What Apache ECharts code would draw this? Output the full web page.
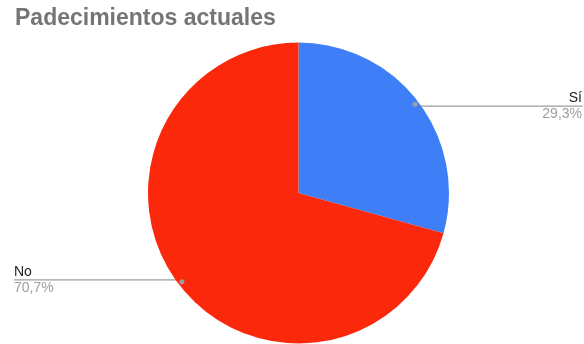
<!DOCTYPE html>
<html>
<head>
<meta charset="utf-8">
<script src="https://cdn.jsdelivr.net/npm/echarts@6/dist/echarts.min.js"></script>
<style>
  html, body { margin: 0; padding: 0; background: #fff; }
  #chart { width: 584px; height: 344px; }
</style>
</head>
<body>
<div id="chart"></div>
<script>
// Survey answers and their shares (percent)
const categories = ['Sí', 'No'];
const values = [29.3, 70.7];
const colors = ['#3e7ff7', '#fb280c'];

const CENTER = [298.5, 193];
const RADIUS = 150.5;
const DOT_R = 143.5; // radius where the leader lines begin

const pieData = categories.map((name, i) => ({
  name: name,
  value: values[i],
  itemStyle: { color: colors[i] }
}));

const chart = echarts.init(document.getElementById('chart'), null, { renderer: 'canvas' });
const W = 584;

chart.setOption({
  animation: false,
  title: {
    text: 'Padecimientos actuales',
    left: 10,
    top: 2,
    textStyle: {
      fontFamily: 'Liberation Sans, Arial, sans-serif',
      fontSize: 23,
      fontWeight: 'bold',
      color: '#757575'
    }
  },
  series: [
    {
      type: 'pie',
      center: CENTER,
      radius: [0, RADIUS],
      startAngle: 90,
      clockwise: true,
      silent: true,
      data: pieData,
      label: {
        show: true,
        position: 'outer',
        fontFamily: 'Liberation Sans, Arial, sans-serif',
        formatter: function (p) {
          return '{n|' + p.name + '}\n{p|' + p.value.toFixed(1).replace('.', ',') + '%}';
        },
        rich: {
          n: { fontSize: 14, lineHeight: 16, color: '#222222', fontFamily: 'Liberation Sans, Arial, sans-serif' },
          p: { fontSize: 14, lineHeight: 16, color: '#9e9e9e', fontFamily: 'Liberation Sans, Arial, sans-serif' }
        }
      },
      labelLine: {
        show: true,
        length: 10,
        length2: 10,
        lineStyle: { color: '#9e9e9e', width: 1.2 }
      },
      labelLayout: function (params) {
        const p0 = params.labelLinePoints[0];
        const k = DOT_R / RADIUS;
        const dx = CENTER[0] + (p0[0] - CENTER[0]) * k;
        const dy = CENTER[1] + (p0[1] - CENTER[1]) * k;
        const right = p0[0] > CENTER[0];
        const ex = right ? W - 1.5 : 14;
        return {
          x: right ? W - 2 : 14,
          y: dy,
          align: right ? 'right' : 'left',
          verticalAlign: 'middle',
          labelLinePoints: [[dx, dy], [(dx + ex) / 2, dy], [ex, dy]]
        };
      },
      emphasis: { disabled: true }
    },
    {
      // thin transparent ring used to place the leader-line dots
      type: 'pie',
      center: CENTER,
      radius: [DOT_R - 6, DOT_R + 6],
      startAngle: 90,
      clockwise: true,
      silent: true,
      z: 3,
      data: categories.map((name, i) => ({ name: name, value: values[i] })),
      itemStyle: { color: 'rgba(0,0,0,0)' },
      label: {
        show: true,
        position: 'inside',
        formatter: '{d|}',
        rich: {
          d: { width: 5, height: 5, borderRadius: 2.5, backgroundColor: '#9e9e9e' }
        }
      },
      labelLine: { show: false },
      emphasis: { disabled: true }
    }
  ]
});
</script>
</body>
</html>
